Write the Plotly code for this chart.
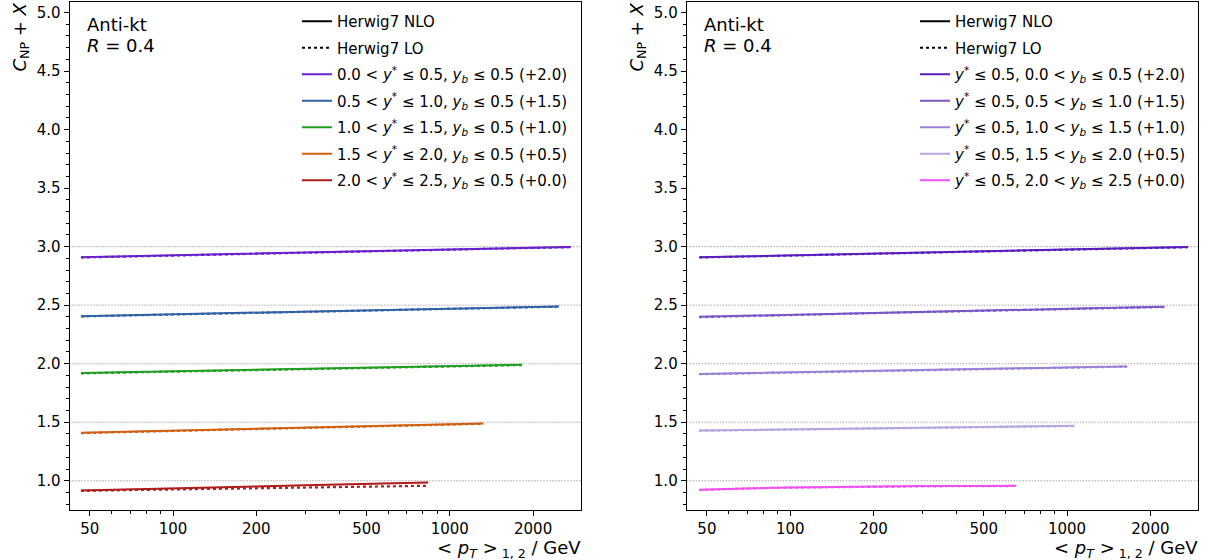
import plotly.graph_objects as go

# ---------------- data ----------------
# left panel: bins in y* (y_b <= 0.5)
pt_L = [
    [46.5, 60, 80, 100, 150, 200, 300, 500, 800, 1200, 1800, 2735],
    [46.5, 60, 80, 100, 150, 200, 300, 500, 800, 1200, 1800, 2478],
    [46.5, 60, 80, 100, 150, 200, 300, 500, 800, 1200, 1824],
    [46.5, 60, 80, 100, 150, 200, 300, 500, 800, 1320],
    [46.5, 60, 80, 100, 150, 200, 300, 500, 835],
]
nlo_L = [
    [0.909, 0.915, 0.921, 0.926, 0.935, 0.941, 0.950, 0.961, 0.971, 0.980, 0.989, 0.997],
    [0.906, 0.911, 0.917, 0.922, 0.930, 0.936, 0.945, 0.955, 0.965, 0.974, 0.982, 0.989],
    [0.921, 0.926, 0.931, 0.936, 0.944, 0.949, 0.957, 0.967, 0.976, 0.983, 0.991],
    [0.909, 0.915, 0.922, 0.927, 0.937, 0.943, 0.953, 0.965, 0.977, 0.989],
    [0.917, 0.922, 0.929, 0.935, 0.945, 0.951, 0.961, 0.974, 0.986],
]
lo_L = [
    [0.907, 0.913, 0.919, 0.924, 0.933, 0.939, 0.948, 0.959, 0.969, 0.978, 0.987, 0.995],
    [0.904, 0.909, 0.915, 0.920, 0.928, 0.934, 0.943, 0.953, 0.963, 0.972, 0.980, 0.987],
    [0.917, 0.922, 0.927, 0.932, 0.940, 0.945, 0.953, 0.963, 0.972, 0.980, 0.988],
    [0.907, 0.913, 0.920, 0.925, 0.934, 0.940, 0.950, 0.962, 0.974, 0.986],
    [0.914, 0.918, 0.923, 0.927, 0.934, 0.938, 0.944, 0.951, 0.957],
]
# right panel: bins in y_b (y* <= 0.5)
pt_R = [
    [46.9, 60, 80, 100, 150, 200, 300, 500, 800, 1200, 1800, 2735],
    [46.9, 60, 80, 100, 150, 200, 300, 500, 800, 1200, 1800, 2247],
    [46.9, 60, 80, 100, 150, 200, 300, 500, 800, 1200, 1648],
    [46.9, 60, 80, 100, 150, 200, 300, 500, 800, 1062],
    [46.9, 60, 80, 100, 150, 200, 300, 500, 655],
]
nlo_R = [
    [0.909, 0.915, 0.921, 0.926, 0.935, 0.941, 0.950, 0.961, 0.971, 0.980, 0.989, 0.997],
    [0.901, 0.907, 0.914, 0.918, 0.928, 0.934, 0.943, 0.954, 0.964, 0.973, 0.981, 0.986],
    [0.912, 0.917, 0.922, 0.926, 0.933, 0.938, 0.946, 0.955, 0.964, 0.971, 0.977],
    [0.929, 0.932, 0.936, 0.939, 0.944, 0.948, 0.953, 0.959, 0.965, 0.969],
    [0.923, 0.932, 0.939, 0.943, 0.948, 0.951, 0.954, 0.956, 0.957],
]
lo_R = [
    [0.907, 0.913, 0.919, 0.924, 0.933, 0.939, 0.948, 0.959, 0.969, 0.978, 0.987, 0.995],
    [0.897, 0.904, 0.911, 0.916, 0.926, 0.932, 0.941, 0.952, 0.962, 0.971, 0.979, 0.984],
    [0.910, 0.915, 0.920, 0.924, 0.931, 0.936, 0.944, 0.953, 0.962, 0.969, 0.975],
    [0.927, 0.930, 0.934, 0.937, 0.942, 0.946, 0.951, 0.957, 0.963, 0.967],
    [0.921, 0.930, 0.937, 0.941, 0.946, 0.949, 0.952, 0.954, 0.955],
]
offsets = [2.0, 1.5, 1.0, 0.5, 0.0]
band_halfwidth = [0.006, 0.006, 0.006, 0.006, 0.006]

labels_L = [
    "0.0 &lt; <i>y</i><sup>*</sup> ≤ 0.5, <i>y<sub>b</sub></i> ≤ 0.5 (+2.0)",
    "0.5 &lt; <i>y</i><sup>*</sup> ≤ 1.0, <i>y<sub>b</sub></i> ≤ 0.5 (+1.5)",
    "1.0 &lt; <i>y</i><sup>*</sup> ≤ 1.5, <i>y<sub>b</sub></i> ≤ 0.5 (+1.0)",
    "1.5 &lt; <i>y</i><sup>*</sup> ≤ 2.0, <i>y<sub>b</sub></i> ≤ 0.5 (+0.5)",
    "2.0 &lt; <i>y</i><sup>*</sup> ≤ 2.5, <i>y<sub>b</sub></i> ≤ 0.5 (+0.0)",
]
labels_R = [
    "<i>y</i><sup>*</sup> ≤ 0.5, 0.0 &lt; <i>y<sub>b</sub></i> ≤ 0.5 (+2.0)",
    "<i>y</i><sup>*</sup> ≤ 0.5, 0.5 &lt; <i>y<sub>b</sub></i> ≤ 1.0 (+1.5)",
    "<i>y</i><sup>*</sup> ≤ 0.5, 1.0 &lt; <i>y<sub>b</sub></i> ≤ 1.5 (+1.0)",
    "<i>y</i><sup>*</sup> ≤ 0.5, 1.5 &lt; <i>y<sub>b</sub></i> ≤ 2.0 (+0.5)",
    "<i>y</i><sup>*</sup> ≤ 0.5, 2.0 &lt; <i>y<sub>b</sub></i> ≤ 2.5 (+0.0)",
]
colors_L = ["#6a1fcc", "#2f62a6", "#1f9e1f", "#d0600f", "#b01c1c"]
colors_R = ["#5a1cbf", "#7a56c8", "#9a80d6", "#c6b6e4", "#ff9cff"]
colors_R_line = ["#5a1cbf", "#7a56c8", "#9a80d6", "#b8a4de", "#f050f0"]

x_major = [50, 100, 200, 500, 1000, 2000]
x_minor = [60, 70, 80, 90, 300, 400, 600, 700, 800, 900]
y_major = [1.0, 1.5, 2.0, 2.5, 3.0, 3.5, 4.0, 4.5, 5.0]

FONT = "DejaVu Sans"
TICK_SIZE = 15
LABEL_SIZE = 18


def rgba(hexc, a):
    h = hexc.lstrip("#")
    r, g, b = int(h[0:2], 16), int(h[2:4], 16), int(h[4:6], 16)
    return f"rgba({r},{g},{b},{a})"


fig = go.Figure()


def add_panel(pts, nlos, los, labels, cols, lcols, xa, ya, legend, tag):
    # legend header entries
    fig.add_trace(go.Scatter(x=[None], y=[None], mode="lines", name="Herwig7 NLO",
                             line=dict(color="black", width=2), xaxis=xa, yaxis=ya,
                             legend=legend, legendgroup=tag + "nlo"))
    fig.add_trace(go.Scatter(x=[None], y=[None], mode="lines", name="Herwig7 LO",
                             line=dict(color="black", width=2, dash="dot"), xaxis=xa, yaxis=ya,
                             legend=legend, legendgroup=tag + "lo"))
    for i in range(len(pts)):
        x = pts[i]
        off = offsets[i]
        yn = [v + off for v in nlos[i]]
        yl = [v + off for v in los[i]]
        hw = band_halfwidth[i]
        up = [v + hw for v in yn]
        dn = [v - hw for v in yn]
        fig.add_trace(go.Scatter(x=x + x[::-1], y=up + dn[::-1], fill="toself",
                                 fillcolor=rgba(cols[i], 0.3), line=dict(width=0),
                                 mode="lines", showlegend=False, hoverinfo="skip",
                                 xaxis=xa, yaxis=ya))
        fig.add_trace(go.Scatter(x=x, y=yl, mode="lines", showlegend=False,
                                 line=dict(color=lcols[i], width=2.2, dash="dot"),
                                 xaxis=xa, yaxis=ya))
        fig.add_trace(go.Scatter(x=x, y=yn, mode="lines", name=labels[i],
                                 line=dict(color=lcols[i], width=2),
                                 xaxis=xa, yaxis=ya, legend=legend,
                                 legendgroup=f"{tag}{i}"))


add_panel(pt_L, nlo_L, lo_L, labels_L, colors_L, colors_L, "x", "y", "legend", "L")
add_panel(pt_R, nlo_R, lo_R, labels_R, colors_R, colors_R_line, "x2", "y2", "legend2", "R")

# reference lines at the offsets
for xa in ["x", "x2"]:
    for off in offsets:
        fig.add_shape(type="line", xref=f"{xa} domain", yref=xa.replace("x", "y"),
                      x0=0, x1=1, y0=off + 1.0, y1=off + 1.0,
                      line=dict(color="#7a7a7a", width=1, dash="1px,2px"), layer="below")

axis_common = dict(showgrid=False, zeroline=False, showline=True, linecolor="black",
                   linewidth=1, mirror=True, ticks="outside", ticklen=5, tickwidth=1,
                   tickcolor="black", automargin=False,
                   tickfont=dict(family=FONT, size=TICK_SIZE, color="black"))

xaxis_cfg = dict(axis_common, type="log", range=[1.626, 3.474], tickmode="array",
                 tickvals=x_major, ticktext=[str(v) for v in x_major],
                 minor=dict(tickmode="array", tickvals=x_minor, ticks="outside",
                            ticklen=2.5, tickcolor="black", tickwidth=0.8))
yaxis_cfg = dict(axis_common, range=[0.75, 5.09], tickmode="array",
                 tickvals=y_major, ticktext=[f"{v:.1f}" for v in y_major],
                 minor=dict(tick0=0, dtick=0.1, ticks="outside", ticklen=2.5,
                            tickcolor="black", tickwidth=0.8))

ydom = [1 - 510 / 560, 1 - 2 / 560]
legend_common = dict(xanchor="left", yanchor="top", bgcolor="rgba(0,0,0,0)",
                     font=dict(family=FONT, size=TICK_SIZE), itemwidth=30, tracegroupgap=4)
fig.update_layout(
    width=1210, height=560,
    margin=dict(l=0, r=0, t=0, b=0, autoexpand=False),
    paper_bgcolor="white", plot_bgcolor="white",
    font=dict(family=FONT, size=TICK_SIZE, color="black"),
    xaxis=dict(xaxis_cfg, domain=[69.5 / 1210, 581 / 1210], anchor="y"),
    yaxis=dict(yaxis_cfg, domain=ydom, anchor="x"),
    xaxis2=dict(xaxis_cfg, domain=[686.7 / 1210, 1198.3 / 1210], anchor="y2"),
    yaxis2=dict(yaxis_cfg, domain=ydom, anchor="x2"),
    legend=dict(legend_common, x=297 / 1210, y=1 - 5 / 560),
    legend2=dict(legend_common, x=915 / 1210, y=1 - 5 / 560),
    showlegend=True,
)

ann = []
for x0, xl, xr in [(85, 20, 583), (702, 637, 1200)]:
    ann.append(dict(text="Anti-kt", x=x0 / 1210, y=1 - 25 / 560, xref="paper", yref="paper",
                    xanchor="left", yanchor="middle", showarrow=False,
                    font=dict(family=FONT, size=LABEL_SIZE)))
    ann.append(dict(text="<i>R</i> = 0.4", x=x0 / 1210, y=1 - 45 / 560, xref="paper", yref="paper",
                    xanchor="left", yanchor="middle", showarrow=False,
                    font=dict(family=FONT, size=LABEL_SIZE)))
    ann.append(dict(text="<i>C</i><sub>NP</sub> + <i>X</i>", x=xl / 1210, y=1 - 1 / 560,
                    xref="paper", yref="paper", xanchor="center", yanchor="top",
                    textangle=-90, showarrow=False, font=dict(family=FONT, size=LABEL_SIZE)))
    ann.append(dict(text="&lt; <i>p<sub>T</sub></i> &gt;<sub> 1, 2</sub> / GeV", x=xr / 1210,
                    y=1 - 549 / 560, xref="paper", yref="paper", xanchor="right",
                    yanchor="middle", showarrow=False, font=dict(family=FONT, size=LABEL_SIZE)))
fig.update_layout(annotations=ann)

fig.write_html("out.html", config={"displayModeBar": False},
               post_script="document.body.style.margin='0';")
